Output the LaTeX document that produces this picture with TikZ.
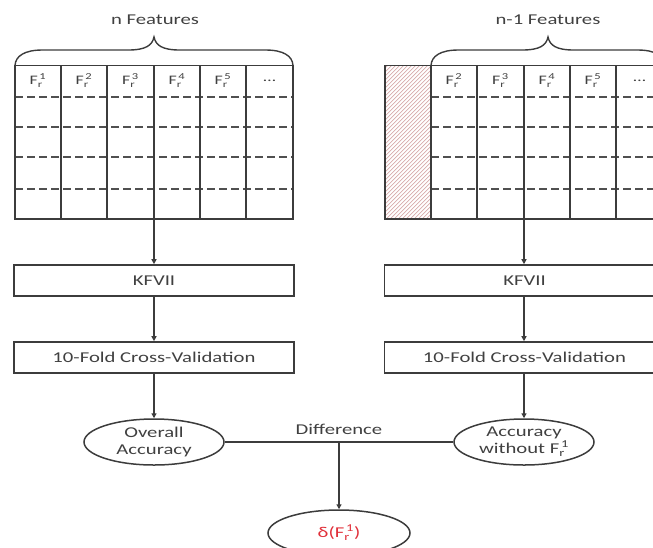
\documentclass[tikz,border=0pt]{standalone}
\usepackage{fontspec}
\setmainfont{Carlito}[FakeStretch=1.38]
\usepackage{amsmath}
\usetikzlibrary{arrows.meta,shapes.geometric,calc}

\definecolor{ink}{HTML}{404040}
\definecolor{linec}{HTML}{3C3C3C}
\definecolor{dashc}{HTML}{505050}
\definecolor{hatchc}{HTML}{D6AAAA}
\definecolor{deltac}{HTML}{E0303A}

% feature symbol F_r^k
\newcommand\Fsym[1]{$\text{F}_{\text{r}}^{\,\text{#1}}$}

% curly brace over a table: left end, tip x, right end, base y
\newcommand\topbrace[4]{%
  \draw[bracestyle] (#1,#4) .. controls ($(#1,#4)+(0.5,-9.5)$) and ($(#1,#4)+(9.5,-15.5)$) .. ($(#1,#4)+(27.5,-15.5)$)
    -- ($(#2,#4)+(-25.7,-15.5)$) .. controls ($(#2,#4)+(-7.7,-15.5)$) and ($(#2,#4)+(-1.7,-20.5)$) .. ($(#2,#4)+(0,-28.5)$)
    .. controls ($(#2,#4)+(1.7,-20.5)$) and ($(#2,#4)+(7.7,-15.5)$) .. ($(#2,#4)+(25.7,-15.5)$)
    -- ($(#3,#4)+(-27.5,-15.5)$) .. controls ($(#3,#4)+(-9.5,-15.5)$) and ($(#3,#4)+(-0.5,-9.5)$) .. (#3,#4);}

\tikzset{
  gridline/.style={draw=linec, line width=1.7pt},
  dashrow/.style={draw=dashc, line width=1.1pt, dash pattern=on 8pt off 4pt},
  bracestyle/.style={draw=linec, line width=1.4pt},
  procbox/.style={draw=linec, line width=1.6pt, minimum width=280pt, minimum height=31pt,
    inner sep=0pt, text=ink, font=\fontsize{15}{16.5}\selectfont},
  result/.style={ellipse, draw=linec, line width=1.5pt, minimum width=140pt, minimum height=46pt,
    inner sep=0pt, align=center, text=ink, font=\fontsize{15}{16.5}\selectfont},
  flow/.style={draw=linec, line width=1.8pt, -{Triangle[length=5pt,width=5pt]}},
  plainline/.style={draw=linec, line width=1.5pt},
  caption/.style={text=ink, font=\fontsize{15}{16.5}\selectfont},
  cell/.style={text=ink, font=\fontsize{13}{14}\selectfont},
  frame/.style={inner sep=0pt, minimum width=#1},
}

\begin{document}
\begin{tikzpicture}[x=1pt,y=-1pt]
\useasboundingbox (0,0) rectangle (653,547);
\clip (0,0) rectangle (653,547);

% ---------- left table: n features ----------
\node[frame=278pt, minimum height=153.5pt] (tabL) at (154,142.25) {};
\foreach \r in {97,127,157,189}
  \draw[dashrow] (15,\r) -- (293,\r);
\foreach \c in {61,107,154,200,246}
  \draw[gridline] (\c,65.5) -- (\c,219);
\draw[gridline] (15,65.5) rectangle (293,219);
\node[cell] (l1) at (38,80.5)  {\Fsym{1}};
\node[cell] (l2) at (84,80.5)  {\Fsym{2}};
\node[cell] (l3) at (130.5,80.5) {\Fsym{3}};
\node[cell] (l4) at (177,80.5) {\Fsym{4}};
\node[cell] (l5) at (223,80.5) {\Fsym{5}};
\node[cell] (l6) at (269.5,81)   {\dots};
\topbrace{15}{154}{293}{65.5}
\node[caption] (nfeat) at (155,20) {n Features};

% ---------- right table: n-1 features ----------
\node[frame=278pt, minimum height=153.5pt] (tabR) at (524,142.25) {};
\begin{scope}
  \clip (385,65.5) rectangle (431,219);
  \foreach \k in {220,224,...,436}
    \draw[hatchc, line width=0.7pt] (\k,225) -- (\k+170,55);
\end{scope}
\foreach \r in {97,127,157,189}
  \draw[dashrow] (431,\r) -- (663,\r);
\foreach \c in {431,477,524,570,616}
  \draw[gridline] (\c,65.5) -- (\c,219);
\draw[gridline] (385,65.5) rectangle (663,219);
\node[cell] (r2) at (454,80.5) {\Fsym{2}};
\node[cell] (r3) at (500.5,80.5) {\Fsym{3}};
\node[cell] (r4) at (547,80.5) {\Fsym{4}};
\node[cell] (r5) at (593,80.5) {\Fsym{5}};
\node[cell] (r6) at (639.5,81)   {\dots};
\topbrace{431}{548}{665}{65.5}
\node[caption] (n1feat) at (548,20) {n-1 Features};

% ---------- processing steps ----------
\node[procbox] (kfL) at (154,280.5) {KFVII};
\node[procbox] (cvL) at (154,357.5) {10-Fold Cross-Validation};
\node[procbox] (kfR) at (524.5,280.5) {KFVII};
\node[procbox] (cvR) at (524.5,357.5) {10-Fold Cross-Validation};

\node[result] (accL) at (154,442) {Overall\\Accuracy};
\node[result] (accR) at (524,442) {Accuracy\\without \Fsym{1}};

\draw[flow] (tabL.south) -- (tabL.south |- kfL.north);
\draw[flow] (tabL.south |- kfL.south) -- (tabL.south |- cvL.north);
\draw[flow] (tabL.south |- cvL.south) -- (accL.north);
\draw[flow] (tabR.south) -- (tabR.south |- kfR.north);
\draw[flow] (tabR.south |- kfR.south) -- (tabR.south |- cvR.north);
\draw[flow] (tabR.south |- cvR.south) -- (accR.north);

% ---------- difference ----------
\draw[plainline] (accL.east) -- node[caption, above=3pt] (difflabel) {Difference} (accR.west);
\coordinate (diffpt) at ($(accL.east)!0.5!(accR.west)$);
\node[result, text=deltac, minimum width=142pt] (delta) at ($(diffpt)+(0,91)$) {δ(\Fsym{1})};
\draw[flow] (diffpt) -- (delta.north);
\end{tikzpicture}
\end{document}
